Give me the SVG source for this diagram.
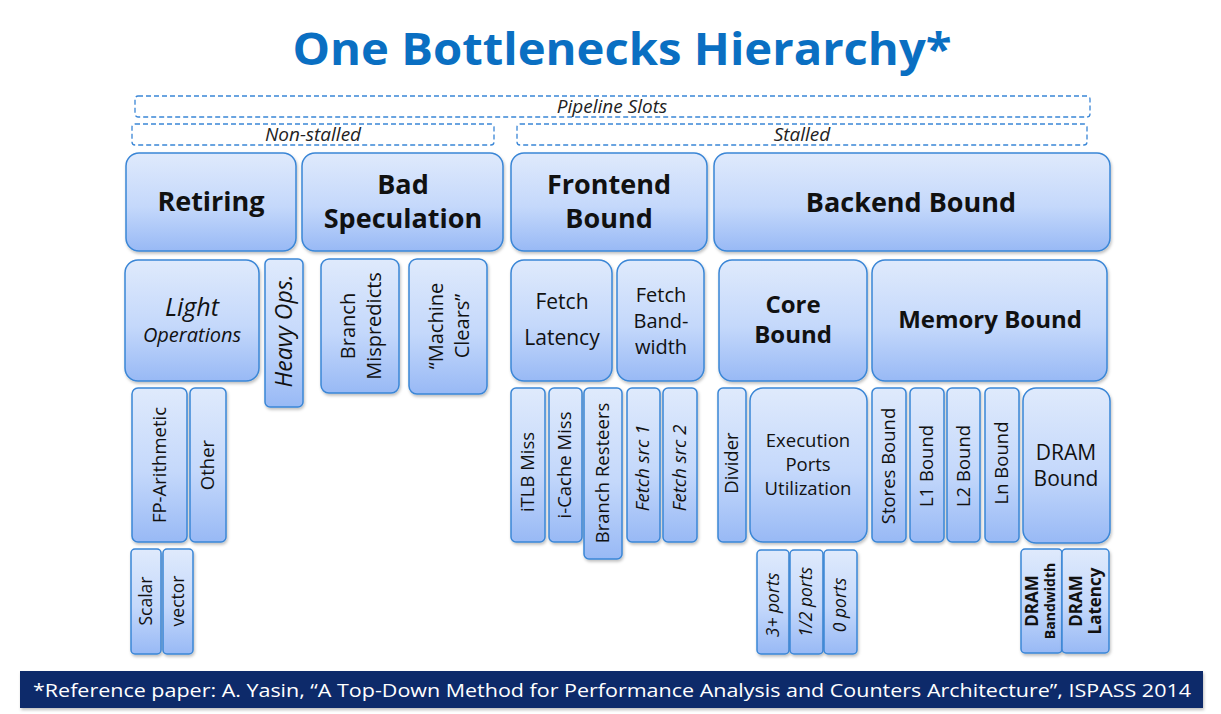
<svg xmlns="http://www.w3.org/2000/svg" width="1221" height="714" viewBox="0 0 1221 714">
<defs>
<linearGradient id="g" x1="0" y1="0" x2="0" y2="1">
<stop offset="0" stop-color="#dfeafc"/>
<stop offset="0.55" stop-color="#c4d8fb"/>
<stop offset="1" stop-color="#98b9f5"/>
</linearGradient>
<filter id="sh" x="-20%" y="-20%" width="140%" height="140%">
<feDropShadow dx="1" dy="2" stdDeviation="1.5" flood-color="#000" flood-opacity="0.25"/>
</filter>
<style>
.b{fill:url(#g);stroke:#3a86d6;stroke-width:1.5;filter:url(#sh)}
.d{fill:none;stroke:#3a86d6;stroke-width:1.3;stroke-dasharray:5,3}
text{font-family:"Open Sans","Noto Sans","Liberation Sans",sans-serif;fill:#111;text-anchor:middle}
.h1{font-size:27px;font-weight:bold}
.h2{font-size:24px;font-weight:bold}
.t{font-size:21px}
.v{font-size:18.5px}
.p{font-size:17.5px}
.i{font-style:italic}
.lab{font-size:19px;font-style:italic;fill:#222}
</style>
</defs>
<rect width="1221" height="714" fill="#fff"/>
<text x="622" y="65" style="font-size:44px;font-weight:bold;fill:#0a6fc2" textLength="659" lengthAdjust="spacingAndGlyphs">One Bottlenecks Hierarchy*</text>

<g id="slots">
<rect class="d" x="135" y="96" width="955" height="21" rx="3"/>
<text class="lab" x="612" y="113">Pipeline Slots</text>
</g>
<g id="nonstalled">
<rect class="d" x="132" y="124" width="362" height="21" rx="3"/>
<text class="lab" x="313" y="141">Non-stalled</text>
</g>
<g id="stalled">
<rect class="d" x="517" y="124" width="570" height="21" rx="3"/>
<text class="lab" x="802" y="141">Stalled</text>
</g>

<g id="connectors"></g>

<!-- Level 1 -->
<g id="retiring"><rect class="b" x="126" y="153" width="170" height="98" rx="13"/><text class="h1" x="211" y="211">Retiring</text></g>
<g id="badspec"><rect class="b" x="302" y="153" width="201" height="98" rx="13"/><text class="h1" x="403" y="194">Bad</text><text class="h1" x="403" y="228">Speculation</text></g>
<g id="frontend"><rect class="b" x="511" y="153" width="196" height="98" rx="13"/><text class="h1" x="609" y="194">Frontend</text><text class="h1" x="609" y="228">Bound</text></g>
<g id="backend"><rect class="b" x="714" y="153" width="396" height="98" rx="13"/><text class="h1" x="911" y="212">Backend Bound</text></g>

<!-- Level 2 -->
<g id="light"><rect class="b" x="125" y="260" width="134" height="121" rx="13"/><text class="i" x="192" y="316" style="font-size:25px">Light</text><text class="i" x="192" y="342" style="font-size:20px">Operations</text></g>
<g id="heavy"><rect class="b" x="265" y="259" width="38" height="148" rx="5"/><text class="i" style="font-size:23px" transform="translate(284,331) rotate(-90)" dy="8">Heavy Ops.</text></g>
<g id="branchmis"><rect class="b" x="321" y="259" width="78" height="134" rx="8"/><text style="font-size:20px" transform="translate(360,326) rotate(-90)"><tspan x="0" y="-5">Branch</tspan><tspan x="0" y="21">Mispredicts</tspan></text></g>
<g id="mclears"><rect class="b" x="409" y="259" width="78" height="135" rx="8"/><text style="font-size:20px" transform="translate(448,326) rotate(-90)"><tspan x="0" y="-5">“Machine</tspan><tspan x="0" y="21">Clears”</tspan></text></g>
<g id="fetchlat"><rect class="b" x="511" y="260" width="101" height="121" rx="13"/><text class="t" x="562" y="309">Fetch</text><text class="t" x="562" y="345">Latency</text></g>
<g id="fetchbw"><rect class="b" x="617" y="260" width="87" height="121" rx="13"/><text style="font-size:20px" x="661" y="302">Fetch</text><text style="font-size:20px" x="661" y="328">Band-</text><text style="font-size:20px" x="661" y="354">width</text></g>
<g id="core"><rect class="b" x="719" y="260" width="148" height="121" rx="13"/><text class="h2" x="793" y="313">Core</text><text class="h2" x="793" y="343">Bound</text></g>
<g id="memory"><rect class="b" x="872" y="260" width="235" height="121" rx="13"/><text class="h2" x="990" y="328">Memory Bound</text></g>

<!-- Level 3 -->
<g id="fparith"><rect class="b" x="132" y="388" width="55" height="154" rx="6"/><text class="v" transform="translate(160,465) rotate(-90)" dy="6">FP-Arithmetic</text></g>
<g id="other"><rect class="b" x="190" y="388" width="36" height="154" rx="5"/><text class="v" transform="translate(208,465) rotate(-90)" dy="6">Other</text></g>
<g id="itlb"><rect class="b" x="511" y="388" width="34" height="154" rx="5"/><text class="v" transform="translate(528,472) rotate(-90)" dy="6">iTLB Miss</text></g>
<g id="icache"><rect class="b" x="549" y="388" width="33" height="154" rx="5"/><text class="v" transform="translate(565,465) rotate(-90)" dy="6">i-Cache Miss</text></g>
<g id="resteers"><rect class="b" x="584" y="388" width="38" height="171" rx="5"/><text class="v" transform="translate(603,473) rotate(-90)" dy="6">Branch Resteers</text></g>
<g id="fsrc1"><rect class="b" x="627" y="388" width="33" height="154" rx="5"/><text class="v i" transform="translate(643,468) rotate(-90)" dy="6">Fetch src 1</text></g>
<g id="fsrc2"><rect class="b" x="663" y="388" width="34" height="154" rx="5"/><text class="v i" transform="translate(680,468) rotate(-90)" dy="6">Fetch src 2</text></g>
<g id="divider"><rect class="b" x="718" y="388" width="28" height="154" rx="5"/><text class="v" transform="translate(732,463) rotate(-90)" dy="6">Divider</text></g>
<g id="ports"><rect class="b" x="750" y="388" width="117" height="154" rx="13"/><text style="font-size:18.5px" x="808" y="447">Execution</text><text style="font-size:18.5px" x="808" y="471">Ports</text><text style="font-size:18.5px" x="808" y="495">Utilization</text></g>
<g id="stores"><rect class="b" x="872" y="388" width="34" height="154" rx="5"/><text class="v" transform="translate(889,466) rotate(-90)" dy="6">Stores Bound</text></g>
<g id="l1"><rect class="b" x="910" y="388" width="34" height="154" rx="5"/><text class="v" transform="translate(927,466) rotate(-90)" dy="6">L1 Bound</text></g>
<g id="l2"><rect class="b" x="947" y="388" width="33" height="154" rx="5"/><text class="v" transform="translate(964,466) rotate(-90)" dy="6">L2 Bound</text></g>
<g id="ln"><rect class="b" x="985" y="388" width="34" height="154" rx="5"/><text class="v" transform="translate(1002,463) rotate(-90)" dy="6">Ln Bound</text></g>
<g id="dram"><rect class="b" x="1023" y="388" width="87" height="155" rx="13"/><text class="t" x="1066" y="460">DRAM</text><text class="t" x="1066" y="486">Bound</text></g>

<!-- Level 4 -->
<g id="scalar"><rect class="b" x="131" y="549" width="30" height="105" rx="4"/><text class="p" transform="translate(146,601) rotate(-90)" dy="6">Scalar</text></g>
<g id="vector"><rect class="b" x="163" y="549" width="30" height="105" rx="4"/><text class="p" transform="translate(178,601) rotate(-90)" dy="6">vector</text></g>
<g id="p3"><rect class="b" x="757" y="550" width="32" height="104" rx="4"/><text class="p i" transform="translate(773,605) rotate(-90)" dy="6">3+ ports</text></g>
<g id="p12"><rect class="b" x="790" y="550" width="33" height="104" rx="4"/><text class="p i" transform="translate(806,602) rotate(-90)" dy="6">1/2 ports</text></g>
<g id="p0"><rect class="b" x="824" y="550" width="33" height="104" rx="4"/><text class="p i" transform="translate(840,605) rotate(-90)" dy="6">0 ports</text></g>
<g id="drambw"><rect class="b" x="1021" y="549" width="41" height="104" rx="4"/><text transform="translate(1041,601) rotate(-90)" style="font-weight:bold"><tspan x="0" y="-3" style="font-size:17px">DRAM</tspan><tspan x="0" y="14" style="font-size:14px">Bandwidth</tspan></text></g>
<g id="dramlat"><rect class="b" x="1062" y="549" width="47" height="104" rx="4"/><text transform="translate(1085,601) rotate(-90)" style="font-weight:bold;font-size:17px"><tspan x="0" y="-3">DRAM</tspan><tspan x="0" y="16">Latency</tspan></text></g>

<g id="footer">
<rect x="20" y="671" width="1183" height="37" fill="#0a2c6b" filter="url(#sh)"/>
<text x="612" y="697" style="font-size:19px;fill:#fff" textLength="1158" lengthAdjust="spacingAndGlyphs">*Reference paper: A. Yasin, “A Top-Down Method for Performance Analysis and Counters Architecture”, ISPASS 2014</text>
</g>
</svg>
